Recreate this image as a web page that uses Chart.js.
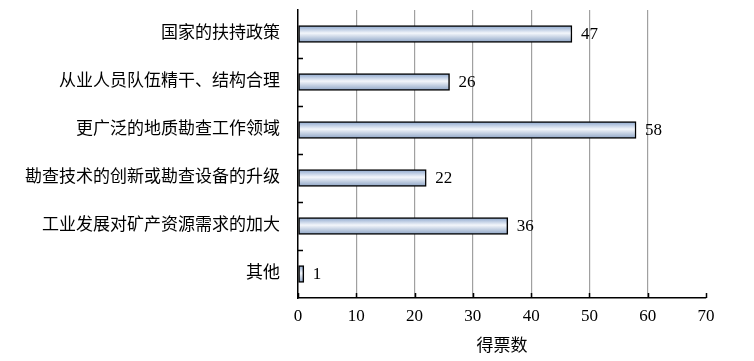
<!DOCTYPE html>
<html>
<head>
<meta charset="utf-8">
<script src="https://cdn.jsdelivr.net/npm/chart.js@4"></script>
<style>
  body { margin: 0; background: #fff; }
  #box { width: 754px; height: 361px; }
</style>
</head>
<body>
<div id="box"><canvas id="myChart"></canvas></div>
<script>
const categories = ["国家的扶持政策", "从业人员队伍精干、结构合理", "更广泛的地质勘查工作领域", "勘查技术的创新或勘查设备的升级", "工业发展对矿产资源需求的加大", "其他"];
const votes = [47, 26, 58, 22, 36, 1];
const xTicks = [0, 10, 20, 30, 40, 50, 60, 70];
const xTitle = "得票数";

const font = "'Liberation Serif', 'Noto Sans CJK SC', serif";
const barH = 17;

// gradient per bar, light in the middle
function barFill(context) {
    const chart = context.chart;
    const y = chart.scales.y;
    if (!y || context.dataIndex === undefined) return '#c8d5e8';
    const cy = y.getPixelForValue(context.dataIndex);
    if (!isFinite(cy)) return '#c8d5e8';
    const g = chart.ctx.createLinearGradient(0, cy - barH / 2, 0, cy + barH / 2);
    g.addColorStop(0, '#88a3cb');
    g.addColorStop(0.45, '#f3f6fb');
    g.addColorStop(1, '#8aa2c4');
    return g;
}

// value labels and inner tick marks
const extras = {
    id: 'extras',
    afterDatasetsDraw(chart) {
        const ctx = chart.ctx;
        const meta = chart.getDatasetMeta(0);
        ctx.save();
        ctx.font = "17px " + font;
        ctx.fillStyle = '#000';
        ctx.textBaseline = 'middle';
        ctx.textAlign = 'left';
        meta.data.forEach((bar, i) => {
            ctx.fillText(votes[i], bar.x + 9, bar.y + 1);
        });

        const a = chart.chartArea;
        const x = chart.scales.x;
        ctx.strokeStyle = '#000';
        ctx.lineWidth = 1.5;
        ctx.beginPath();
        xTicks.forEach(v => {
            const px = Math.round(x.getPixelForValue(v)) + 0.5;
            ctx.moveTo(px, a.bottom);
            ctx.lineTo(px, a.bottom - 5);
        });
        const step = (a.bottom - a.top) / categories.length;
        for (let i = 1; i < categories.length; i++) {
            const py = Math.round(a.top + step * i) + 0.5;
            ctx.moveTo(a.left, py);
            ctx.lineTo(a.left + 5, py);
        }
        ctx.stroke();
        ctx.restore();
    }
};

const data = {
    labels: categories,
    datasets: [{
        data: votes,
        backgroundColor: barFill,
        borderColor: '#000',
        borderWidth: 1.5,
        borderSkipped: false,
        barThickness: barH,
    }]
};

const config = {
    type: 'bar',
    data: data,
    options: {
        indexAxis: 'y',
        responsive: true,
        maintainAspectRatio: false,
        animation: false,
        layout: {
            padding: { top: 10, right: 48, left: 0, bottom: 0 }
        },
        scales: {
            x: {
                min: 0,
                max: 70,
                afterFit: (s) => { s.height = 63; s.paddingLeft = 0; s.paddingRight = 0; },
                afterBuildTicks: (s) => { s.ticks = xTicks.map(v => ({ value: v })); },
                grid: {
                    color: (c) => (c.tick && (c.tick.value === 0 || c.tick.value === 70)) ? 'rgba(0,0,0,0)' : '#a0a0a0',
                    lineWidth: 1.2,
                    drawTicks: false
                },
                border: { color: '#000', width: 1.5 },
                ticks: {
                    color: '#000',
                    padding: 8,
                    font: { family: font, size: 17 }
                },
                title: {
                    display: true,
                    text: xTitle,
                    color: '#000',
                    padding: { top: 7 },
                    font: { family: font, size: 17 }
                }
            },
            y: {
                afterFit: (s) => { s.width = 298; s.paddingTop = 0; s.paddingBottom = 0; },
                grid: { display: false },
                border: { color: '#000', width: 1.5 },
                ticks: {
                    color: '#000',
                    padding: 10,
                    font: { family: font, size: 17 }
                }
            }
        },
        plugins: {
            legend: { display: false },
            tooltip: { enabled: false }
        }
    },
    plugins: [extras]
};

const myChart = new Chart(
    document.getElementById('myChart'),
    config
);
</script>
</body>
</html>
